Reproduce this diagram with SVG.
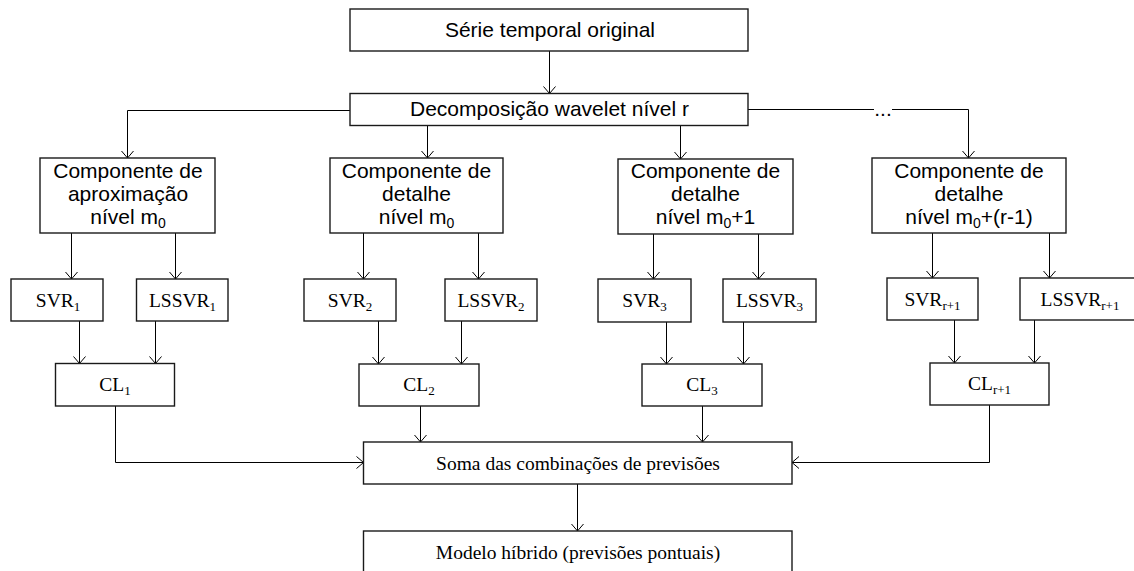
<svg xmlns="http://www.w3.org/2000/svg" width="1134" height="571" viewBox="0 0 1134 571">
<style>
.box{fill:#fff;stroke:#1a1a1a;stroke-width:1.4}
.con{fill:none;stroke:#000;stroke-width:1}
.sans{font-family:"Liberation Sans",Arial,sans-serif;font-size:21px;fill:#000;text-anchor:middle}
.serif{font-family:"Liberation Serif","Times New Roman",serif;font-size:19.5px;fill:#000;text-anchor:middle}
</style>
<defs>
<marker id="arr" viewBox="-8 -7 9 14" refX="0" refY="0" markerWidth="9" markerHeight="14" markerUnits="userSpaceOnUse" orient="auto">
<path d="M-7,-6 L0,0 L-7,6" fill="none" stroke="#000" stroke-width="1"/>
</marker>
</defs>
<rect width="1134" height="571" fill="#fff"/>
<g id="connectors">
<path class="con" d="M549.5 51 V93.5" marker-end="url(#arr)"/>
<path class="con" d="M350 110.5 H127.5 V158" marker-end="url(#arr)"/>
<path class="con" d="M427.5 125.5 V158" marker-end="url(#arr)"/>
<path class="con" d="M680.5 125.5 V159" marker-end="url(#arr)"/>
<path class="con" d="M748 109.5 H874"/>
<path class="con" d="M892 109.5 H968.5 V158" marker-end="url(#arr)"/>
<path class="con" d="M71.5 233 V279" marker-end="url(#arr)"/>
<path class="con" d="M175.5 233 V279" marker-end="url(#arr)"/>
<path class="con" d="M363.5 233 V279" marker-end="url(#arr)"/>
<path class="con" d="M478.5 233 V279" marker-end="url(#arr)"/>
<path class="con" d="M653.5 234 V279" marker-end="url(#arr)"/>
<path class="con" d="M758.5 234 V279" marker-end="url(#arr)"/>
<path class="con" d="M932.5 233 V278" marker-end="url(#arr)"/>
<path class="con" d="M1049.5 233 V278" marker-end="url(#arr)"/>
<path class="con" d="M79.5 321 V363.5" marker-end="url(#arr)"/>
<path class="con" d="M155.5 321 V363.5" marker-end="url(#arr)"/>
<path class="con" d="M378.5 321 V364" marker-end="url(#arr)"/>
<path class="con" d="M461.5 321 V364" marker-end="url(#arr)"/>
<path class="con" d="M666.5 322 V364" marker-end="url(#arr)"/>
<path class="con" d="M743.5 322 V364" marker-end="url(#arr)"/>
<path class="con" d="M954.5 320 V363" marker-end="url(#arr)"/>
<path class="con" d="M1034.5 320 V363" marker-end="url(#arr)"/>
<path class="con" d="M115.5 406 V462.5 H363.5" marker-end="url(#arr)"/>
<path class="con" d="M420.5 406 V442" marker-end="url(#arr)"/>
<path class="con" d="M702.5 406 V442" marker-end="url(#arr)"/>
<path class="con" d="M989.5 405 V462.5 H792" marker-end="url(#arr)"/>
<path class="con" d="M577.5 484 V531" marker-end="url(#arr)"/>
<text class="sans" x="883" y="116">...</text>
</g>
<g id="serie">
<rect class="box" x="350" y="9" width="398" height="42"/>
<text class="sans" x="550" y="37">Série temporal original</text>
</g>
<g id="decomp">
<rect class="box" x="350" y="93.5" width="398" height="32"/>
<text class="sans" x="549.5" y="116">Decomposição wavelet nível r</text>
</g>
<g id="comp1">
<rect class="box" x="40" y="158" width="175" height="75"/>
<text class="sans" x="128" y="178">Componente de</text>
<text class="sans" x="128" y="201">aproximação</text>
<text class="sans" x="128" y="224">nível m<tspan font-size="14" dy="4">0</tspan></text>
</g>
<g id="comp2">
<rect class="box" x="330" y="158" width="173" height="75"/>
<text class="sans" x="416.5" y="178">Componente de</text>
<text class="sans" x="416.5" y="201">detalhe</text>
<text class="sans" x="416.5" y="224">nível m<tspan font-size="14" dy="4">0</tspan></text>
</g>
<g id="comp3">
<rect class="box" x="618" y="159" width="175" height="75"/>
<text class="sans" x="705.5" y="178">Componente de</text>
<text class="sans" x="705.5" y="201">detalhe</text>
<text class="sans" x="705.5" y="224">nível m<tspan font-size="14" dy="4">0</tspan><tspan dy="-4">+1</tspan></text>
</g>
<g id="comp4">
<rect class="box" x="872" y="158" width="194" height="75"/>
<text class="sans" x="969" y="178">Componente de</text>
<text class="sans" x="969" y="201">detalhe</text>
<text class="sans" x="969" y="224">nível m<tspan font-size="14" dy="4">0</tspan><tspan dy="-4">+(r-1)</tspan></text>
</g>
<g id="svr1">
<rect class="box" x="11" y="279" width="92" height="42"/>
<text class="serif" x="58" y="307">SVR<tspan font-size="13" dy="4">1</tspan></text>
</g>
<g id="lssvr1">
<rect class="box" x="136.5" y="279" width="91.5" height="42"/>
<text class="serif" x="182.5" y="307">LSSVR<tspan font-size="13" dy="4">1</tspan></text>
</g>
<g id="cl1">
<rect class="box" x="55.5" y="363.5" width="119" height="42.5"/>
<text class="serif" x="115" y="391">CL<tspan font-size="13" dy="4">1</tspan></text>
</g>
<g id="svr2">
<rect class="box" x="304" y="279" width="92" height="42"/>
<text class="serif" x="350" y="307">SVR<tspan font-size="13" dy="4">2</tspan></text>
</g>
<g id="lssvr2">
<rect class="box" x="445" y="279" width="92" height="42"/>
<text class="serif" x="491" y="307">LSSVR<tspan font-size="13" dy="4">2</tspan></text>
</g>
<g id="cl2">
<rect class="box" x="359" y="364" width="120" height="42"/>
<text class="serif" x="419" y="391">CL<tspan font-size="13" dy="4">2</tspan></text>
</g>
<g id="svr3">
<rect class="box" x="598" y="279" width="93" height="43"/>
<text class="serif" x="644.5" y="307">SVR<tspan font-size="13" dy="4">3</tspan></text>
</g>
<g id="lssvr3">
<rect class="box" x="723" y="279" width="93" height="43"/>
<text class="serif" x="769.5" y="307">LSSVR<tspan font-size="13" dy="4">3</tspan></text>
</g>
<g id="cl3">
<rect class="box" x="642" y="364" width="120" height="42"/>
<text class="serif" x="702" y="391">CL<tspan font-size="13" dy="4">3</tspan></text>
</g>
<g id="svrr1">
<rect class="box" x="887" y="278" width="91" height="42"/>
<text class="serif" x="932.5" y="306">SVR<tspan font-size="13" dy="4">r+1</tspan></text>
</g>
<g id="lssvrr1">
<rect class="box" x="1020" y="278" width="130" height="42"/>
<text class="serif" x="1080" y="306">LSSVR<tspan font-size="13" dy="4">r+1</tspan></text>
</g>
<g id="clr1">
<rect class="box" x="930" y="363" width="119" height="42"/>
<text class="serif" x="989.5" y="390">CL<tspan font-size="13" dy="4">r+1</tspan></text>
</g>
<g id="soma">
<rect class="box" x="363.5" y="442" width="428.5" height="42"/>
<text class="serif" x="578" y="470">Soma das combinações de previsões</text>
</g>
<g id="modelo">
<rect class="box" x="363.5" y="531" width="428.5" height="60"/>
<text class="serif" x="578" y="559">Modelo híbrido (previsões pontuais)</text>
</g>
</svg>
